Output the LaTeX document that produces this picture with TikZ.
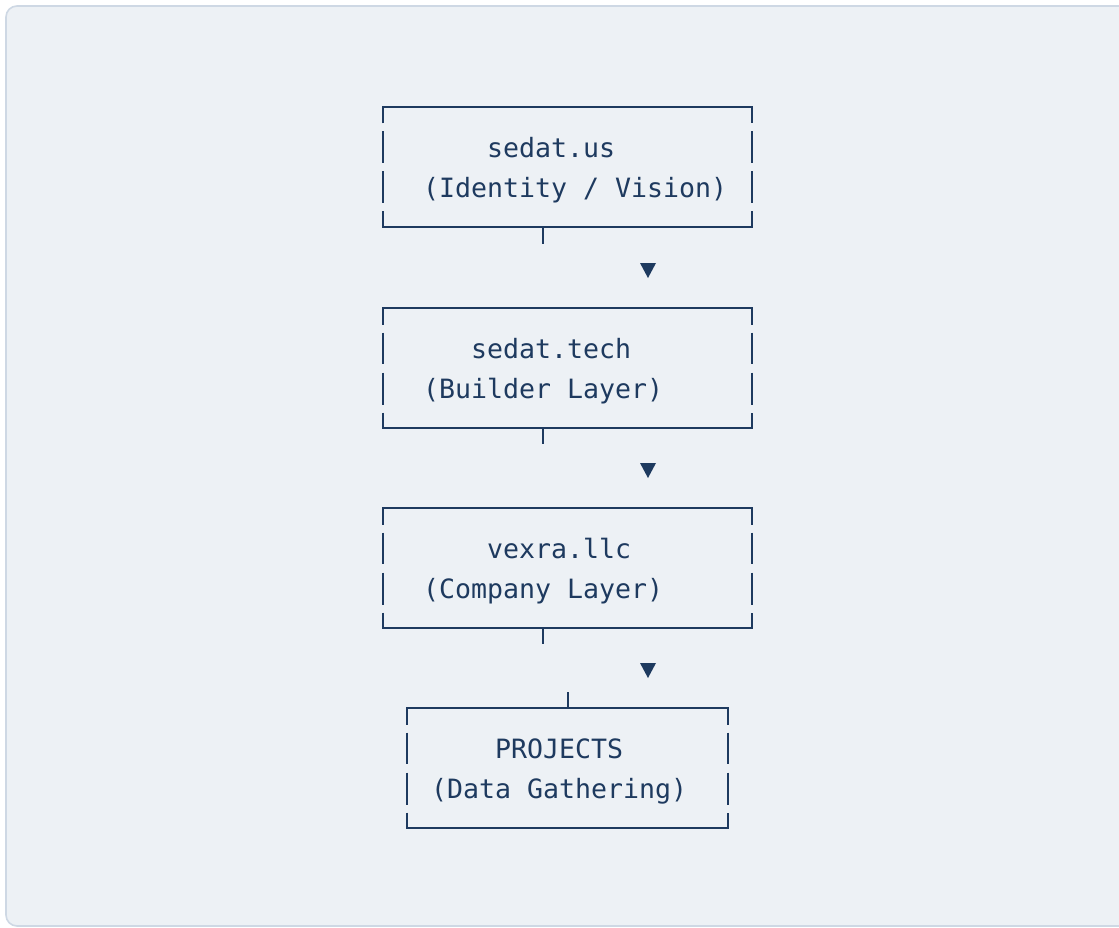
\documentclass[tikz,border=0pt]{standalone}
\usepackage{fontspec}
\setmonofont{DejaVu Sans Mono}
\definecolor{bgfill}{RGB}{237,241,245}
\definecolor{bgline}{RGB}{206,216,228}
\definecolor{ink}{RGB}{30,58,95}
\tikzset{
  boxline/.style={draw=ink, line width=2.1pt, line join=miter, line cap=butt},
  txt/.style={text=ink, inner sep=0pt, anchor=base west, font=\ttfamily\fontsize{26.58}{40}\selectfont},
  tip/.style={fill=ink, draw=none},
}
% #1 left x, #2 right x, #3 top y
\newcommand\asciiframe[3]{%
  \draw[boxline] (#1,#3+16.5) -- (#1,#3) -- (#2,#3) -- (#2,#3+16.5);
  \draw[boxline] (#1,#3+104.5) -- (#1,#3+120) -- (#2,#3+120) -- (#2,#3+104.5);
  \draw[boxline] (#1,#3+24.5) -- (#1,#3+56) (#1,#3+64.5) -- (#1,#3+96.5);
  \draw[boxline] (#2,#3+24.5) -- (#2,#3+56) (#2,#3+64.5) -- (#2,#3+96.5);
}
\newcommand\downtip[2]{%
  \fill[tip] (#1-8,#2) -- (#1+8,#2) -- (#1,#2+15) -- cycle;
}
\begin{document}
\begin{tikzpicture}[x=1pt,y=-1pt]
\useasboundingbox (0,0) rectangle (1119,928);
\fill[white] (0,0) rectangle (1119,928);
\draw[draw=bgline, fill=bgfill, line width=1.6pt, rounded corners=11pt] (6,6) rectangle (1135,926);

% boxes
\asciiframe{383}{752}{107}
\asciiframe{383}{752}{308}
\asciiframe{383}{752}{508}
\asciiframe{407}{728}{708}

% texts
\node[txt] (t1a) at (487,158) {sedat.us};
\node[txt] (t1b) at (423,198) {(Identity / Vision)};
\node[txt] (t2a) at (471,358) {sedat.tech};
\node[txt] (t2b) at (423,398) {(Builder Layer)};
\node[txt] (t3a) at (487,558) {vexra.llc};
\node[txt] (t3b) at (423,598) {(Company Layer)};
\node[txt] (t4a) at (495,758) {PROJECTS};
\node[txt] (t4b) at (431,798) {(Data Gathering)};

% stems
\coordinate (s1a) at (543,227); \coordinate (s1b) at (543,244);
\coordinate (s2a) at (543,428); \coordinate (s2b) at (543,444);
\coordinate (s3a) at (543,628); \coordinate (s3b) at (543,644);
\coordinate (s4a) at (568,692); \coordinate (s4b) at (568,708);
\draw[boxline] (s1a) -- (s1b);
\draw[boxline] (s2a) -- (s2b);
\draw[boxline] (s3a) -- (s3b);
\draw[boxline] (s4a) -- (s4b);

% arrow tips
\downtip{648}{263}
\downtip{648}{463}
\downtip{648}{663}
\end{tikzpicture}
\end{document}
